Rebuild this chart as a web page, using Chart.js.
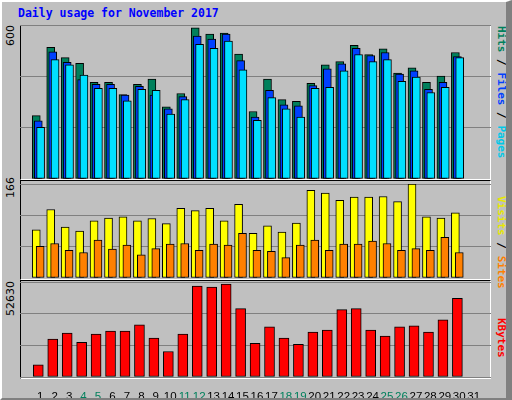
<!DOCTYPE html>
<html><head><meta charset="utf-8">
<script src="https://cdn.jsdelivr.net/npm/chart.js@4"></script>
<style>
body{margin:0;background:#fff}
#wrap{position:absolute;left:0;top:0;background:#c0c0c0;border-left:2px solid #fff;border-top:2px solid #fff;border-right:6px solid #808080;border-bottom:2px solid #808080;box-sizing:border-box;width:512px;height:400px;overflow:hidden}
.frame{position:absolute;left:18px;width:471px;border-top:1px solid #000;border-left:1px solid #000;border-right:1px solid #fff;border-bottom:1px solid #fff;box-sizing:border-box}
canvas{position:absolute}
.lab{position:absolute;font-family:"DejaVu Sans";font-size:11px;white-space:nowrap;transform-origin:0 0;transform:rotate(-90deg)}
.rl{position:absolute;font-family:"DejaVu Sans Mono";font-size:11px;font-weight:bold;white-space:nowrap;transform-origin:0 0;transform:rotate(90deg)}
#title{position:absolute;left:16px;top:4px;font-family:"DejaVu Sans Mono";font-weight:bold;font-size:11.5px;color:#0000ff}
</style></head><body>
<div id="wrap">
<div id="title">Daily usage for November 2017</div>
<div class="frame" style="top:23px;height:155px"></div>
<div class="frame" style="top:178px;height:100px"></div>
<div class="frame" style="top:278px;height:99px"></div>
<div class="lab" style="left:2px;top:44px">600</div>
<div class="lab" style="left:2px;top:196px">166</div>
<div class="lab" style="left:2px;top:314px">52630</div>
<div class="rl" style="left:506px;top:24px"><span style="color:#00805c">Hits</span><span> / </span><span style="color:#0040ff">Files</span><span> / </span><span style="color:#00c8e8">Pages</span></div>
<div class="rl" style="left:506px;top:194px"><span style="color:#e8e800">Visits</span><span> / </span><span style="color:#ff8000">Sites</span></div>
<div class="rl" style="left:506px;top:316px;color:#ff0000">KBytes</div>
<canvas id="c1" style="left:18px;top:23px"></canvas>
<canvas id="c2" style="left:18px;top:182px"></canvas>
<canvas id="c3" style="left:18px;top:280px"></canvas>
</div>
<script>
const days=[1,2,3,4,5,6,7,8,9,10,11,12,13,14,15,16,17,18,19,20,21,22,23,24,25,26,27,28,29,30,31];
const weekend=[4,5,11,12,18,19,25,26];
const hits=[247,513,473,451,377,377,329,369,389,281,333,589,565,569,487,263,389,309,303,373,445,457,521,485,507,413,433,377,401,493];
const files=[227,495,455,387,369,369,327,361,327,273,321,557,545,565,461,241,345,289,285,364,429,449,509,481,493,409,421,349,377,477];
const pages=[201,465,445,405,353,353,305,349,345,253,309,525,509,537,425,229,317,273,241,353,357,421,485,457,465,381,397,337,357,473];
const visits=[85,121,90,83,101,106,108,101,105,96,123,119,123,101,130,79,92,81,97,155,150,137,143,143,144,135,166,108,106,115];
const sites=[56,61,49,45,67,51,58,41,52,60,61,49,60,58,79,49,47,36,58,67,49,60,60,65,61,49,52,49,72,45];
const kbytes=[6791,20939,24335,19242,23769,25467,25467,28862,21505,14148,23769,50366,49800,51498,37916,18675,27730,21505,18109,24900,26032,37350,37916,26032,22636,27730,28296,24900,31691,43575];
const XMIN=0.13,XMAX=31.67;
function ds(vals,off,color,w,order){return{data:vals.map((v,i)=>({x:days[i]+off,y:v})),backgroundColor:color,borderColor:'#000',borderWidth:1,barThickness:w,borderSkipped:false,order};}
function make(id,h,datasets,ymax,showX){
  const c=document.getElementById(id);c.width=471;c.height=h;
  c.style.width='471px';c.style.height=h+'px';
  new Chart(c,{type:'bar',data:{datasets},options:{responsive:false,animation:false,devicePixelRatio:1,
    plugins:{legend:{display:false},tooltip:{enabled:false}},
    layout:{padding:0},
    datasets:{bar:{grouped:false}},
    scales:{
      x:{type:'linear',min:XMIN,max:XMAX,display:showX,grid:{display:false},border:{display:false},
        afterBuildTicks:s=>{s.ticks=days.map(d=>({value:d}));},
        afterFit:s=>{s.height=showX?22:0;},
        ticks:{autoSkip:false,maxRotation:0,padding:5,font:{family:'Liberation Sans',size:11.5},
          callback:v=>String(v),
          color:ctx=>weekend.includes(ctx.tick.value)?'#00805c':'#000'}},
      y:{min:0,max:ymax,afterFit:s=>{s.width=0;},
        afterBuildTicks:s=>{s.ticks=[0,1,2,3].map(k=>({value:ymax*k/3}));},
        ticks:{display:false},border:{display:false},grid:{color:'#808080',lineWidth:1,drawTicks:false}}
    }}});
}
make('c1',154,[ds(hits,-0.27,'#00805c',8,3),ds(files,-0.13,'#0040ff',8,2),ds(pages,0.03,'#00e0ff',8,1)],600,false);
make('c2',94,[ds(visits,-0.27,'#ffff00',8,2),ds(sites,0,'#ff8000',8,1)],166,false);
make('c3',117,[ds(kbytes,-0.13,'#ff0000',10,1)],52630,true);
</script></body></html>
